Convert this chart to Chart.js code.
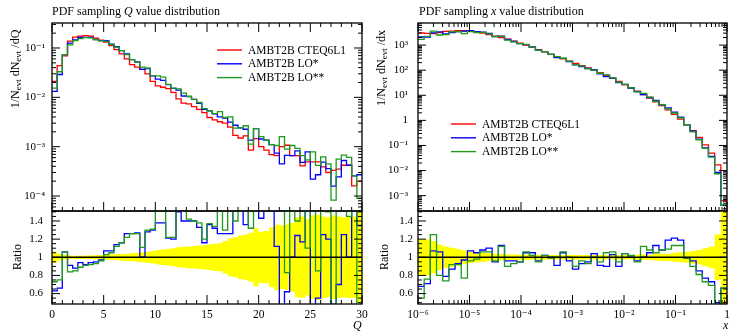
<!DOCTYPE html>
<html>
<head>
<meta charset="utf-8">
<script src="https://cdn.jsdelivr.net/npm/chart.js@4.4.1/dist/chart.umd.min.js"></script>
<style>
  body { margin: 0; width: 730px; height: 331px; background: #fff; position: relative; overflow: hidden; font-family: 'Liberation Serif', serif; }
  canvas { position: absolute; }
  .t { position: absolute; font-size: 11.5px; white-space: nowrap; color: #000; line-height: 1; }
  .rot { transform: translate(-50%, -50%) rotate(-90deg); }
  sub { font-size: 75%; vertical-align: -2px; line-height: 0; }
</style>
</head>
<body>
<canvas id="qMain" width="380" height="213" style="left:0;top:0"></canvas>
<canvas id="qRatio" width="380" height="122" style="left:0;top:209px"></canvas>
<canvas id="xMain" width="365" height="213" style="left:365px;top:0"></canvas>
<canvas id="xRatio" width="365" height="122" style="left:365px;top:209px"></canvas>

<div class="t" style="left:52px;top:5px;font-size:12px">PDF sampling <i>Q</i> value distribution</div>
<div class="t" style="left:419px;top:5px;font-size:12px">PDF sampling <i>x</i> value distribution</div>
<div class="t rot" style="left:15px;top:69px;font-size:12px">1/N<sub>evt</sub> dN<sub>evt</sub> /dQ</div>
<div class="t rot" style="left:381px;top:68px;font-size:12px">1/N<sub>evt</sub> dN<sub>evt</sub> /dx</div>
<div class="t rot" style="left:17px;top:257px;font-size:12px">Ratio</div>
<div class="t rot" style="left:384px;top:257px;font-size:12px">Ratio</div>
<div class="t" style="left:353px;top:319px;font-size:12px"><i>Q</i></div>
<div class="t" style="left:723px;top:319px;font-size:12px"><i>x</i></div>

<script>
// histogram binning
const qRange = [0, 30];
const qBins = 60;
const xLogRange = [-6, 0];
const xBins = 50;

// Q distribution: reference (CTEQ6L1) and ratios of the others to it
const qRed = [0.021, 0.044, 0.069, 0.138, 0.166, 0.174, 0.178, 0.174, 0.158, 0.145,
              0.132, 0.112, 0.093, 0.076, 0.060, 0.046, 0.041, 0.037, 0.030, 0.021,
              0.017, 0.016, 0.015, 0.0126, 0.0093, 0.0076, 0.0074, 0.0065, 0.0057, 0.0049,
              0.0039, 0.0035, 0.0032, 0.0030, 0.0025, 0.0017, 0.0015, 0.00166, 0.00085, 0.00145,
              0.0010, 0.00085, 0.00069, 0.00066, 0.0010, 0.00107, 0.00066, 0.00066, 0.00041, 0.00049,
              0.00049, 0.00049, 0.00039, 0.00030, 0.00033, 0.00035, 0.00042, 0.00042, 0.00016, 0.00020];
const qBlueRatio = [0.63, 0.66, 1.06, 0.91, 0.88, 0.94, 0.92, 0.94, 0.95, 0.97,
                    1.07, 1.07, 1.14, 1.16, 1.26, 1.26, 1.27, 1.00, 1.28, 1.30,
                    1.38, 1.38, 1.21, 1.20, 1.50, 1.40, 1.40, 1.40, 1.33, 1.16,
                    1.36, 1.32, 1.26, 1.26, 1.26, 1.60, 1.60, 1.36, 1.60, 1.60,
                    1.43, 1.60, 1.60, 1.12, 0.45, 0.62, 1.00, 1.24, 1.17, 1.60,
                    0.45, 0.55, 1.25, 1.20, 0.48, 0.70, 1.25, 1.00, 1.60, 1.35];
const qGreenRatio = [0.73, 0.75, 1.06, 0.84, 0.85, 0.89, 0.91, 0.92, 0.93, 0.96,
                     1.03, 1.05, 1.12, 1.16, 1.22, 1.26, 1.26, 1.11, 1.30, 1.31,
                     1.60, 1.60, 1.22, 1.22, 1.60, 1.60, 1.42, 1.40, 1.38, 1.20,
                     1.37, 1.34, 1.60, 1.30, 1.60, 1.40, 1.60, 1.60, 1.32, 1.60,
                     1.60, 1.60, 1.60, 1.60, 1.60, 0.83, 1.60, 1.40, 1.60, 1.10,
                     1.60, 0.85, 1.60, 1.50, 0.25, 1.60, 1.60, 1.45, 1.60, 0.45];
const qBandErr = [0.06, 0.035, 0.025, 0.02, 0.018, 0.018, 0.02, 0.02, 0.022, 0.025,
                  0.028, 0.03, 0.033, 0.037, 0.04, 0.045, 0.05, 0.055, 0.06, 0.07,
                  0.08, 0.085, 0.09, 0.10, 0.11, 0.115, 0.12, 0.125, 0.13, 0.135,
                  0.14, 0.15, 0.155, 0.18, 0.21, 0.22, 0.24, 0.25, 0.27, 0.32,
                  0.28, 0.29, 0.33, 0.36, 0.35, 0.36, 0.38, 0.44, 0.45, 0.42,
                  0.46, 0.47, 0.45, 0.44, 0.46, 0.45, 0.44, 0.45, 0.45, 0.50];

// x distribution
const xRed = [3090, 2950, 2880, 3160, 3550, 3630, 3720, 3720, 3550, 3240,
              3020, 2630, 2290, 2000, 1740, 1450, 1200, 1000, 813, 661,
              537, 427, 347, 282, 229, 186, 151, 123, 100, 79.4,
              61.7, 46.8, 35.5, 26.3, 19.5, 14.5, 10.7, 7.76, 5.50, 3.89,
              2.63, 1.74, 1.12, 0.676, 0.389, 0.209, 0.105, 0.050, 0.017, 0.00063];
const xBlueRatio = [0.68, 0.71, 1.07, 1.06, 0.79, 0.87, 0.93, 0.97, 1.07, 1.05,
                    1.08, 1.10, 0.95, 1.13, 0.96, 0.96, 0.95, 1.05, 1.05, 0.96,
                    1.02, 1.00, 0.91, 1.05, 0.96, 0.87, 0.93, 0.95, 1.04, 0.91,
                    0.90, 1.03, 0.90, 1.04, 1.00, 0.96, 1.00, 1.05, 1.13, 1.08,
                    1.19, 1.21, 1.19, 0.99, 0.96, 0.85, 0.77, 0.73, 0.50, 0.66];
const xGreenRatio = [0.55, 0.76, 1.25, 0.80, 0.74, 0.92, 0.92, 0.77, 0.96, 0.98,
                     1.06, 1.06, 0.96, 1.12, 0.90, 0.93, 0.95, 1.06, 1.02, 0.95,
                     1.02, 0.99, 1.00, 1.06, 1.00, 0.90, 0.96, 0.93, 1.00, 0.95,
                     1.05, 1.06, 0.95, 1.04, 1.02, 0.95, 1.12, 1.08, 1.05, 1.08,
                     1.09, 1.13, 1.13, 0.99, 0.90, 0.81, 0.73, 0.69, 0.44, 0.66];
const xBandErr = [0.2, 0.2, 0.18, 0.14, 0.12, 0.105, 0.09, 0.075, 0.06, 0.055,
                  0.05, 0.045, 0.04, 0.035, 0.03, 0.03, 0.03, 0.03, 0.028, 0.027,
                  0.026, 0.025, 0.025, 0.025, 0.025, 0.025, 0.025, 0.025, 0.025, 0.025,
                  0.025, 0.025, 0.025, 0.025, 0.025, 0.027, 0.03, 0.03, 0.035, 0.04,
                  0.04, 0.05, 0.055, 0.06, 0.07, 0.08, 0.1, 0.12, 0.25, 0.6];

const seriesLabels = ['AMBT2B CTEQ6L1', 'AMBT2B LO*', 'AMBT2B LO**'];
const seriesColors = ['#ff0000', '#0000ff', '#1f9a1f'];
const bandColor = '#ffff00';

// ticks
const qTicks = [0, 5, 10, 15, 20, 25, 30];
const qMinorTicks = [1, 2, 3, 4, 6, 7, 8, 9, 11, 12, 13, 14, 16, 17, 18, 19, 21, 22, 23, 24, 26, 27, 28, 29];
const qMainTicks = [1e-4, 1e-3, 1e-2, 1e-1];
const qMainLabels = ['10⁻⁴', '10⁻³', '10⁻²', '10⁻¹'];
const xTicks = [1e-6, 1e-5, 1e-4, 1e-3, 1e-2, 1e-1, 1];
const xTickLabels = ['10⁻⁶', '10⁻⁵', '10⁻⁴', '10⁻³', '10⁻²', '10⁻¹', '1'];
const xMainTicks = [1e-3, 1e-2, 1e-1, 1, 10, 100, 1000];
const xMainLabels = ['10⁻³', '10⁻²', '10⁻¹', '1', '10¹', '10²', '10³'];
const ratioTicks = [0.6, 0.8, 1, 1.2, 1.4];
const ratioLabels = ['0.6', '0.8', '1', '1.2', '1.4'];
const ratioMinor = [0.5, 0.55, 0.65, 0.7, 0.75, 0.85, 0.9, 0.95, 1.05, 1.1, 1.15, 1.25, 1.3, 1.35, 1.45, 1.5];

function logMinors(lo, hi) {
    const out = [];
    for (let e = lo; e < hi; e++) for (let m = 2; m <= 9; m++) out.push(m * Math.pow(10, e));
    return out;
}

function edgesLin(r, n) {
    const w = (r[1] - r[0]) / n;
    return Array.from({length: n + 1}, (_, i) => r[0] + i * w);
}
function edgesLog(r, n) {
    const w = (r[1] - r[0]) / n;
    return Array.from({length: n + 1}, (_, i) => Math.pow(10, r[0] + i * w));
}

function hist(edges, vals) {
    const pts = [];
    vals.forEach((v, i) => { pts.push({x: edges[i], y: v}, {x: edges[i + 1], y: v}); });
    return pts;
}

const serif = "'Liberation Serif', 'DejaVu Serif', serif";
Chart.defaults.font.family = serif;
Chart.defaults.color = '#000';

// frame and inner ticks on all sides, placed through the chart's scales
const frameTicks = {
    id: 'frameTicks',
    afterDatasetsDraw(chart, args, o) {
        const {ctx, chartArea: a, scales} = chart;
        const xs = scales.x, ys = scales.y;
        ctx.save();
        ctx.strokeStyle = '#000';
        ctx.lineWidth = 1;
        const line = (x1, y1, x2, y2) => { ctx.beginPath(); ctx.moveTo(x1, y1); ctx.lineTo(x2, y2); ctx.stroke(); };
        const xt = (vals, len) => vals.forEach(v => {
            const p = xs.getPixelForValue(v);
            if (p < a.left - 0.5 || p > a.right + 0.5) return;
            if (o.topTicks) line(p, a.top, p, a.top + len);
            line(p, a.bottom, p, a.bottom - len);
        });
        const yt = (vals, len) => vals.forEach(v => {
            const p = ys.getPixelForValue(v);
            if (p < a.top - 0.5 || p > a.bottom + 0.5) return;
            line(a.left, p, a.left + len, p);
            line(a.right, p, a.right - len, p);
        });
        xt(o.xMajor, 9); xt(o.xMinor, 4);
        yt(o.yMajor, 8); yt(o.yMinor, 4);
        ctx.lineWidth = 1.3;
        ctx.strokeRect(a.left, a.top, a.right - a.left, a.bottom - a.top);
        ctx.restore();
    }
};

const legendLines = {
    id: 'legendLines',
    afterDatasetsDraw(chart, args, o) {
        if (!o.show) return;
        const ctx = chart.ctx;
        ctx.save();
        seriesLabels.forEach((lab, i) => {
            const y = o.y + i * o.dy;
            ctx.strokeStyle = seriesColors[i];
            ctx.lineWidth = 1.4;
            ctx.beginPath(); ctx.moveTo(o.x, y); ctx.lineTo(o.x + 25, y); ctx.stroke();
            ctx.fillStyle = '#000';
            ctx.font = '11.5px ' + serif;
            ctx.textBaseline = 'middle';
            ctx.fillText(lab, o.x + 31, y + 0.5);
        });
        ctx.restore();
    }
};

function histSet(i, pts, order) {
    return { data: pts, borderColor: seriesColors[i], borderWidth: 1.3, pointRadius: 0, fill: false, tension: 0, order: order };
}

function fixedAxis(size, horizontal) {
    return function (scale) {
        if (horizontal) scale.height = size; else scale.width = size;
        scale.paddingLeft = 0; scale.paddingRight = 0; scale.paddingTop = 0; scale.paddingBottom = 0;
    };
}

function setTicks(values) {
    return function (scale) { scale.ticks = values.map(v => ({value: v})); };
}

function mainChart(id, edges, red, blueR, greenR, xOpts, yOpts, yWidth, padRight, labelPad, legend) {
    const blue = red.map((v, i) => v * blueR[i]);
    const green = red.map((v, i) => v * greenR[i]);
    return new Chart(document.getElementById(id), {
        type: 'line',
        data: { datasets: [
            histSet(2, hist(edges, green), 1),
            histSet(1, hist(edges, blue), 2),
            histSet(0, hist(edges, red), 3)
        ] },
        options: {
            responsive: false, animation: false, parsing: false, normalized: true,
            layout: { padding: { left: 0, right: padRight, top: 23, bottom: 2 } },
            plugins: { legend: { display: false }, tooltip: { enabled: false },
                       frameTicks: { topTicks: true, xMajor: xOpts.major, xMinor: xOpts.minor, yMajor: yOpts.ticks, yMinor: yOpts.minor },
                       legendLines: legend },
            scales: {
                x: { type: xOpts.type, min: xOpts.min, max: xOpts.max, display: false },
                y: { type: 'logarithmic', min: yOpts.min, max: yOpts.max,
                     grid: { display: false, drawTicks: false }, border: { display: false },
                     afterFit: fixedAxis(yWidth, false), afterBuildTicks: setTicks(yOpts.ticks),
                     ticks: { padding: labelPad, font: { size: 11 }, autoSkip: false,
                              callback: v => yOpts.labels[yOpts.ticks.findIndex(t => Math.abs(Math.log10(t) - Math.log10(v)) < 1e-6)] } }
            }
        },
        plugins: [frameTicks, legendLines]
    });
}

function ratioChart(id, edges, blueR, greenR, band, xOpts, yWidth, padRight, labelPad) {
    const lo = xOpts.min, hi = xOpts.max;
    return new Chart(document.getElementById(id), {
        type: 'line',
        data: { datasets: [
            { data: [{x: lo, y: 1}, {x: hi, y: 1}], borderColor: '#000', borderWidth: 1.3, pointRadius: 0, fill: false, order: 0 },
            histSet(2, hist(edges, greenR), 1),
            histSet(1, hist(edges, blueR), 2),
            { data: hist(edges, band.map(e => 1 + e)), borderWidth: 0, pointRadius: 0, backgroundColor: bandColor, fill: '+1', order: 5 },
            { data: hist(edges, band.map(e => 1 - e)), borderWidth: 0, pointRadius: 0, fill: false, order: 6 }
        ] },
        options: {
            responsive: false, animation: false, parsing: false, normalized: true,
            layout: { padding: { left: 0, right: padRight, top: 2, bottom: 0 } },
            plugins: { legend: { display: false }, tooltip: { enabled: false }, filler: { propagate: false },
                       frameTicks: { topTicks: false, xMajor: xOpts.major, xMinor: xOpts.minor, yMajor: ratioTicks, yMinor: ratioMinor },
                       legendLines: { show: false } },
            scales: {
                x: { type: xOpts.type, min: lo, max: hi,
                     grid: { display: false, drawTicks: false }, border: { display: false },
                     afterFit: fixedAxis(27, true), afterBuildTicks: setTicks(xOpts.major),
                     ticks: { padding: 4, font: { size: 11.5 }, autoSkip: false, maxRotation: 0,
                              callback: v => xOpts.labels[xOpts.major.findIndex(t => Math.abs(t - v) <= 1e-9 * Math.max(1, t))] } },
                y: { type: 'linear', min: 0.485, max: 1.51,
                     grid: { display: false, drawTicks: false }, border: { display: false },
                     afterFit: fixedAxis(yWidth, false), afterBuildTicks: setTicks(ratioTicks),
                     ticks: { padding: labelPad, font: { size: 11 }, autoSkip: false,
                              callback: v => ratioLabels[ratioTicks.findIndex(t => Math.abs(t - v) < 1e-6)] } }
            }
        },
        plugins: [frameTicks, legendLines]
    });
}

const qEdges = edgesLin(qRange, qBins);
const xEdges = edgesLog(xLogRange, xBins);

const qAxis = { type: 'linear', min: qRange[0], max: qRange[1], major: qTicks, minor: qMinorTicks, labels: qTicks.map(String) };
const xAxis = { type: 'logarithmic', min: Math.pow(10, xLogRange[0]), max: Math.pow(10, xLogRange[1]), major: xTicks, minor: logMinors(-6, 0), labels: xTickLabels };

mainChart('qMain', qEdges, qRed, qBlueRatio, qGreenRatio, qAxis,
    { min: 4.97e-5, max: 0.321, ticks: qMainTicks, labels: qMainLabels, minor: logMinors(-5, 0) }, 52, 18, 7,
    { show: true, x: 217, y: 50, dy: 13.8 });
ratioChart('qRatio', qEdges, qBlueRatio, qGreenRatio, qBandErr, qAxis, 52, 18, 9);

mainChart('xMain', xEdges, xRed, xBlueRatio, xGreenRatio, xAxis,
    { min: 2.45e-4, max: 7586, ticks: xMainTicks, labels: xMainLabels, minor: logMinors(-4, 4) }, 53, 3, 10,
    { show: true, x: 86, y: 124, dy: 13.8 });
ratioChart('xRatio', xEdges, xBlueRatio, xGreenRatio, xBandErr, xAxis, 53, 3, 5);
</script>
</body>
</html>
